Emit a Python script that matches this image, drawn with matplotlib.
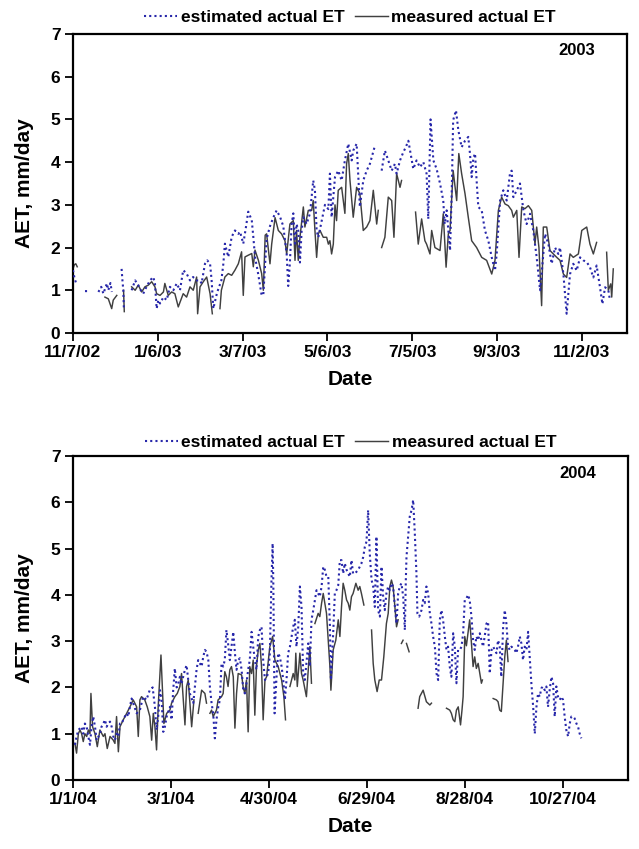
import numpy as np
import pandas as pd
import matplotlib
matplotlib.use("Agg")
import matplotlib.pyplot as plt
from numpy import nan

# ---------------- data ----------------
start03 = "2002-11-07"
start04 = "2004-01-01"
ticks03 = ["11/7/02", "1/6/03", "3/7/03", "5/6/03", "7/5/03", "9/3/03", "11/2/03"]
ticks04 = ["1/1/04", "3/1/04", "4/30/04", "6/29/04", "8/28/04", "10/27/04"]
yticks = [0, 1, 2, 3, 4, 5, 6, 7]
series_names = ["estimated actual ET", "measured actual ET"]

# (day since start, AET mm/day); nan = gap
est03 = [
    (0, 1.47), (1, 1.3), (2.6, 1.12), (3, nan),
    (8.5, 0.98), (11, 0.98), (12, nan),
    (18, 0.96), (20, 1.08), (21.5, 0.92), (24, 1.16), (25, 1.0), (26.5, 1.17), (27.5, 0.96), (28, nan),
    (34.4, 1.5), (35, 1.23), (35.6, 1.0), (36, 0.6), (37, nan),
    (41.5, 1.0), (44, 1.23), (46.2, 1.12), (47.4, 1.03), (49.7, 0.92), (52, 1.08), (54.5, 1.23),
    (56.8, 1.31), (58, 1.16), (59.2, 0.57), (60.4, 0.77), (61.6, 0.69), (64, 0.84), (66.3, 0.77),
    (68.6, 1.08), (71, 1.0), (73.4, 1.16), (75.7, 1.0), (78, 1.47), (80.4, 1.39), (82.8, 1.23),
    (85, 1.31), (87.5, 1.23), (89.9, 1.23), (91, 1.16), (93.4, 1.62), (95, 1.7), (97, 1.62),
    (98.1, 1.23), (99.3, 0.57), (102, 0.95), (105, 1.23), (106.4, 1.62), (107.5, 2.09), (109.9, 1.78),
    (112.3, 2.25), (114.6, 2.4), (117, 2.32), (118.2, 2.37), (120.5, 2.09), (122.4, 2.48), (124, 2.84),
    (126.5, 2.64), (127.6, 2.25), (128.8, 1.78), (131, 1.39), (133.5, 0.88), (134.7, 0.9),
    (137, 2.2), (139.4, 2.5), (141.7, 2.7), (144.1, 2.87), (146.5, 2.72), (148.8, 2.5), (151.2, 1.85),
    (152.3, 1.1), (153.5, 1.65), (154.7, 2.55), (155.9, 2.8), (157.1, 2.09), (158.2, 2.55), (159.4, 2.4),
    (160.6, 1.65), (161.8, 2.4), (163, 2.71), (165.3, 2.55), (167.7, 2.8), (170, 3.57), (171.2, 3.34),
    (172.4, 2.4), (173.6, 2.24), (176, 2.63), (178.3, 3.0), (180.7, 2.9), (181.8, 3.73), (183, 2.71),
    (185.4, 3.65), (187.7, 3.8), (190.1, 3.57), (192.4, 4.04), (194.8, 4.43), (197.2, 4.04), (198.3, 4.27),
    (200.7, 4.43), (203, 2.95), (205.4, 3.57), (207.8, 3.8), (210.1, 3.96), (213.7, 4.39), (215, nan),
    (218.4, 3.8), (220.7, 4.27), (223.1, 4.04), (225.5, 3.8), (227.8, 3.96), (229, 3.73), (231.4, 4.04),
    (233.7, 4.23), (235.5, 4.35), (237.3, 4.5), (240.8, 3.84), (243.1, 4.04), (245.5, 3.88), (247.9, 4.0),
    (250.2, 3.73), (251.4, 2.67), (253, 5.0), (255, 4.04), (257.3, 3.84), (259.7, 3.5), (262, 3.1),
    (263, 2.55), (264.4, 2.87), (265.6, 2.4), (266.8, 1.93), (268, 3.3), (269, 4.98), (271, 5.21),
    (272.7, 4.74), (275, 4.35), (277.4, 4.5), (279.7, 4.59), (280.9, 4.2), (282.1, 3.65), (283.3, 4.1),
    (284.5, 4.2), (285.6, 3.57), (286.8, 2.95), (289.2, 2.87), (291.5, 2.4), (293.9, 2.16), (296.3, 1.77),
    (298.6, 1.46), (299.8, 1.85), (302.2, 3.1), (304.5, 3.34), (306.9, 3.1), (309.2, 3.73), (310.4, 3.8),
    (311.6, 3.18), (314, 3.34), (316.3, 3.5), (318.7, 2.87), (321, 2.55), (323.4, 2.79), (325.7, 2.4),
    (328.1, 1.77), (330.5, 1.0), (331.6, 1.38), (334, 2.32), (336.4, 2.08), (338.7, 1.62), (341.1, 2.0),
    (343.4, 1.85), (344.6, 2.0), (347, 1.38), (349.3, 0.45), (351.7, 1.38), (354, 1.62), (356.4, 1.46),
    (358.8, 1.77), (361.1, 1.7), (363.5, 1.66), (365.8, 1.54), (368.2, 1.3), (370.5, 1.58), (372.9, 1.07),
    (374.6, 0.68), (376.5, 1.07), (378.8, 1.0), (380, 0.76),
]

meas03 = [
    (0, 1.5), (1, 1.6), (2, 1.62), (3, 1.55), (4, nan),
    (22.6, 0.84), (25, 0.8), (27.4, 0.57), (28.5, 0.77), (31, 0.88), (32, nan),
    (35.8, 1.0), (36.3, 0.5), (37, nan),
    (41.5, 1.08), (44, 1.0), (46.2, 1.12), (48.6, 0.96), (50.9, 1.08), (53.3, 1.12), (55.7, 1.2),
    (58, 1.08), (59.2, 0.92), (61.6, 0.88), (64, 0.96), (65, 1.16), (67.4, 0.88), (69.8, 0.96),
    (72.1, 0.92), (74.5, 0.61), (78, 0.92), (80.4, 0.84), (82.8, 1.08), (85.1, 1.0), (86.3, 1.16),
    (87.5, 1.31), (88.2, 0.45), (89.9, 1.08), (92.2, 1.2), (94.6, 1.31), (97, 0.92), (98.6, 0.45), (99, nan),
    (104, 0.57), (105, 1.0), (107.5, 1.31), (109.9, 1.39), (112.3, 1.35), (114.6, 1.47), (117, 1.62),
    (119.3, 1.9), (120.5, 0.88), (121.7, 1.78), (124, 1.82), (126.5, 1.86), (127.6, 1.55), (128.8, 1.94),
    (131.2, 1.7), (133.5, 1.39), (134.7, 1.0), (136, 2.29), (137, 2.32), (139.4, 1.62), (140.6, 2.08),
    (143, 2.7), (145.3, 2.4), (147.6, 2.32), (150, 2.16), (151.2, 1.85), (153.5, 2.55), (155.9, 2.63),
    (157.1, 1.7), (158.2, 2.4), (159.4, 1.7), (160.6, 2.24), (163, 2.95), (164.1, 2.48), (166.5, 2.87),
    (168.9, 2.87), (170, 3.1), (171.2, 2.4), (172.4, 1.77), (173.6, 2.32), (174.8, 2.4), (177.1, 2.24),
    (179.5, 2.24), (180.7, 2.08), (181.8, 2.16), (183, 1.85), (184.2, 2.08), (185.4, 3.0), (186.5, 2.63),
    (187.7, 3.34), (190.1, 3.41), (192.4, 2.8), (193.6, 3.96), (194.8, 4.2), (196, 3.57), (198.3, 2.71),
    (200.7, 3.41), (203, 3.26), (205.4, 2.4), (207.8, 2.48), (210.1, 2.63), (212.5, 3.34), (214.9, 2.55),
    (216, 2.87), (217, nan),
    (218.4, 2.0), (220.7, 2.24), (223.1, 3.18), (225.5, 3.1), (227.1, 2.24), (229, 3.73), (231.4, 3.41),
    (232.5, 3.57), (233, nan),
    (242.4, 2.83), (244.3, 2.08), (246.7, 2.67), (249, 2.16), (250.2, 2.08), (252.6, 1.85), (253.8, 2.4),
    (256.1, 2.0), (259.7, 1.93), (262, 2.79), (264, 1.54), (265.6, 2.32), (266.8, 2.4), (269, 3.8),
    (271.5, 3.1), (273, 4.2), (275, 3.73), (277.4, 3.26), (279.7, 2.71), (282.1, 2.16), (285.6, 2.0),
    (289.2, 1.77), (292.7, 1.7), (296.3, 1.38), (298.6, 1.7), (301, 2.87), (303.3, 3.18), (305.7, 3.02),
    (308, 2.98), (310.4, 2.87), (311.6, 2.71), (314, 2.87), (315.6, 1.77), (317.5, 2.95), (319.8, 2.91),
    (322.2, 2.98), (324.6, 2.87), (326.9, 2.08), (328.1, 2.48), (329.7, 2.0), (331.6, 0.64), (332.8, 2.48),
    (335.2, 2.48), (337.5, 1.93), (339.9, 1.85), (342.3, 1.77), (344.6, 1.7), (347, 1.38), (349.3, 1.3),
    (351.7, 1.85), (354, 1.77), (357.6, 1.85), (360, 2.4), (363.5, 2.48), (365.8, 2.08), (368.2, 1.85),
    (370.5, 2.12), (371, nan),
    (377.6, 1.89), (378.8, 1.0), (380.5, 1.15), (381.2, 0.84), (382.3, 1.5),
]

est04 = [
    (1.2, 0.76), (2.2, 0.94), (3.3, 1.08), (5.3, 1.15), (6.3, 1.0), (7.3, 1.22), (8.4, 1.15), (9.4, 0.94),
    (10.4, 0.76), (11.4, 1.15), (12.4, 1.37), (13.5, 1.15), (14.5, 0.86), (16.5, 1.0), (17.5, 1.15),
    (18.6, 1.22), (19.6, 1.3), (20.6, 1.15), (21.6, 1.22), (22.7, 1.26), (23.7, 1.15), (24.7, 0.94),
    (25.7, 0.86), (26.7, 1.0), (27.8, 0.94), (28.8, 1.22), (29.8, 1.22), (30.8, 1.3), (31.8, 1.37),
    (32.9, 1.44), (33.9, 1.37), (34.9, 1.58), (35.9, 1.76), (36.9, 1.66), (39, 1.44), (41, 1.51),
    (43, 1.8), (45, 1.73), (47, 1.94), (48.8, 2.0), (50.2, 1.58), (51.2, 1.08), (52.2, 1.37), (53.3, 1.94),
    (54.3, 1.73), (55.3, 1.04), (56.3, 1.15), (57.4, 1.37), (59.4, 1.58), (60.4, 1.3), (61.4, 1.94),
    (62.4, 2.41), (63.5, 2.0), (64.5, 2.07), (65.5, 2.23), (66.5, 2.07), (67.5, 2.23), (68.6, 2.38),
    (69.6, 2.48), (70.6, 2.16), (71.6, 1.87), (73.7, 1.66), (74.7, 2.02), (75.7, 2.38), (76.7, 2.59),
    (78.8, 2.45), (79.8, 2.66), (80.8, 2.81), (81.8, 2.77), (82.9, 2.59), (83.9, 2.0), (84.9, 1.66),
    (85.9, 1.44), (86.9, 0.9), (87.9, 1.3), (89, 1.58), (90, 1.73), (91, 2.52), (92, 2.45), (93, 2.59),
    (94, 3.24), (95, 2.95), (96.1, 2.59), (97.1, 2.88), (98.2, 3.2), (99.2, 2.74), (100.2, 2.38),
    (101.2, 2.59), (102.2, 2.63), (103.3, 2.38), (104.3, 1.94), (105.3, 1.87), (106.3, 2.09), (107.3, 2.38),
    (108.3, 2.59), (109.4, 3.2), (110.4, 2.88), (111.4, 2.59), (112.4, 2.38), (113.5, 3.1), (114.5, 3.24),
    (115.5, 3.31), (116.5, 2.6), (117.6, 2.16), (118.6, 2.23), (119.6, 2.3), (120.6, 2.74), (121.6, 4.32),
    (122.3, 5.11), (122.7, 4.32), (123.1, 2.88), (123.5, 1.44), (124.7, 2.23), (125.7, 2.74), (126.7, 2.66),
    (127.8, 2.45), (128.8, 2.16), (129.8, 1.73), (130.8, 2.16), (131.8, 2.74), (132.9, 2.88), (133.9, 3.1),
    (134.9, 3.31), (135.9, 3.46), (136.9, 2.88), (138, 3.31), (139, 4.18), (140, 3.74), (141, 2.3),
    (142, 2.16), (143, 2.52), (144.1, 2.95), (145.1, 2.45), (146.1, 3.46), (147.2, 3.67), (148.2, 3.89),
    (149.2, 4.1), (150.2, 4.03), (151.2, 3.96), (152.3, 4.18), (153.3, 4.61), (154.3, 4.54), (155.3, 4.39),
    (156.4, 4.39), (157.4, 3.31), (158, 2.16), (159.4, 3.17), (160.4, 4.03), (161.4, 4.1), (162.5, 4.21),
    (163.5, 4.75), (164.5, 4.75), (165.5, 4.46), (166.5, 4.68), (167.6, 4.54), (168.6, 4.46), (169.6, 4.39),
    (170.6, 4.75), (171.6, 4.46), (172.7, 4.46), (174.7, 4.54), (176.7, 4.68), (177.8, 4.82), (178.8, 5.04),
    (179.8, 5.15), (180.8, 5.83), (181.8, 4.9), (182.9, 4.32), (183.9, 4.18), (184.9, 3.74), (185.9, 5.26),
    (186.9, 3.67), (188, 3.53), (189, 4.61), (190, 3.96), (191, 3.67), (192, 4.03), (193.1, 4.18),
    (194.1, 4.1), (195.1, 4.25), (196.1, 4.18), (197.2, 3.74), (198.2, 3.38), (199.2, 4.03), (200.2, 4.18),
    (201.2, 4.25), (202.3, 3.96), (203.3, 3.24), (203.9, 4.32), (204.3, 4.82), (205.3, 5.26), (206.3, 5.69),
    (207.4, 5.83), (208.4, 6.05), (209.4, 5.33), (210.4, 4.46), (211, 3.6), (212.1, 3.53), (213.5, 3.67),
    (214.5, 3.89), (215.5, 3.82), (216.5, 4.18), (217.6, 4.03), (218.6, 3.6), (219.6, 3.38), (220.6, 3.1),
    (221.7, 2.88), (222.7, 2.3), (223.7, 2.16), (224.7, 3.46), (225.7, 3.67), (226.7, 3.46), (227.8, 3.1),
    (228.8, 2.81), (229.8, 2.88), (230.8, 2.45), (231.8, 2.23), (232.9, 3.17), (233.9, 2.88), (234.9, 2.09),
    (235.9, 2.81), (237, 2.81), (238, 2.88), (239, 3.17), (240, 3.89), (241, 3.92), (242, 4.0), (243, 3.89),
    (244.1, 3.53), (245.1, 3.02), (246.1, 2.81), (247.1, 3.1), (248.2, 3.02), (249.2, 3.17), (250.2, 3.02),
    (251.2, 2.88), (252.2, 3.1), (253.3, 3.38), (254.3, 3.42), (255.3, 2.3), (256.4, 2.81), (257.4, 2.88),
    (258.4, 2.81), (259.4, 2.74), (260.4, 3.02), (261.4, 2.88), (262.4, 2.23), (263.5, 3.31), (264.5, 3.67),
    (265.5, 3.38), (266.5, 2.88), (267.6, 2.81), (268.6, 2.88), (270.6, 2.81), (271.6, 2.74), (272.6, 2.88),
    (273.7, 3.1), (274.7, 2.95), (275.7, 2.59), (276.7, 2.88), (277.8, 2.81), (278.8, 3.2), (279.8, 2.66),
    (280.8, 2.09), (281.9, 1.58), (282.9, 1.0), (283.9, 1.58), (284.9, 1.87), (285.9, 1.8), (286.9, 1.98),
    (287.9, 2.02), (289, 1.94), (290, 2.02), (291, 1.58), (292, 1.94), (293.1, 2.23), (294.1, 2.09),
    (295.1, 1.37), (296.1, 2.02), (297.1, 1.8), (298.2, 1.73), (299.2, 1.8), (300.2, 1.73), (301.2, 1.37),
    (302.2, 1.08), (303.3, 0.94), (304.3, 1.22), (305.3, 1.37), (306.3, 1.37), (307.3, 1.33), (308.4, 1.22),
    (309.4, 1.15), (310.4, 1.0), (311.4, 0.9),
]

meas04 = [
    (1.2, 0.79), (2.2, 0.58), (3.3, 1.0), (4.3, 1.08), (5.3, 1.0), (6.3, 0.83), (7.3, 1.0), (8.4, 0.94),
    (9.4, 1.08), (10.4, 1.0), (11, 1.87), (12, 1.15), (13.5, 1.0), (14.9, 0.72), (16.5, 1.08), (18.6, 0.94),
    (19.6, 1.0), (21, 0.68), (22.7, 0.94), (24.7, 0.86), (25.7, 0.79), (26.7, 1.37), (27.8, 0.61),
    (28.8, 1.15), (30.8, 1.3), (32.9, 1.44), (34.9, 1.58), (36.9, 1.73), (39, 1.58), (40, 0.94), (41, 1.73),
    (42, 1.8), (44, 1.73), (45.5, 1.58), (47.1, 1.37), (48.2, 0.86), (49.2, 1.44), (50.2, 1.15), (51.2, 0.65),
    (52.2, 1.58), (53.9, 2.7), (54.9, 1.87), (55.7, 1.22), (57.4, 1.44), (59.4, 1.51), (60.4, 1.66),
    (62.4, 1.8), (63.9, 1.87), (65.5, 2.02), (66.5, 2.3), (68.6, 1.19), (69.6, 2.02), (70.6, 2.16),
    (72.7, 1.15), (74.1, 1.73), (75, nan),
    (76.7, 1.44), (78.8, 1.94), (80.8, 1.87), (81.8, 1.66), (82.5, nan),
    (83.9, 1.44), (84.9, 1.51), (85.9, 1.37), (87.9, 1.51), (88.9, 1.73), (91, 1.8), (92, 1.87), (93, 2.34),
    (94, 2.23), (95, 2.02), (96.1, 2.38), (97.1, 2.45), (98.2, 2.23), (99.2, 1.12), (100.2, 1.87),
    (101.2, 2.3), (103.3, 2.27), (104.3, 2.0), (105.3, 1.87), (106.3, 2.16), (107.3, 1.04), (108.3, 2.45),
    (109.4, 2.3), (110.4, 2.59), (111.4, 1.4), (112.4, 2.45), (113.5, 2.81), (114.5, 2.95), (115.5, 2.45),
    (116.5, 1.3), (117.6, 2.16), (118.6, 2.23), (120.6, 2.88), (122.3, 3.1), (123.7, 2.59), (125.7, 2.45),
    (127.8, 2.16), (129.2, 1.8), (130.2, 1.3), (131, nan),
    (132.9, 2.02), (134.9, 2.3), (135.9, 2.16), (136.5, 2.74), (137.4, 2.02), (139, 2.74), (140, 2.3),
    (141, 2.16), (143, 1.8), (144.1, 2.38), (145.1, 2.88), (146.1, 2.09), (147, nan),
    (148.2, 3.38), (150.2, 3.6), (151.2, 3.53), (152.3, 3.82), (153.3, 4.03), (155.3, 3.6), (157.4, 2.45),
    (158, 1.94), (159.4, 2.81), (161, 3.02), (162.5, 3.46), (163.5, 3.1), (164.5, 3.74), (165.5, 4.25),
    (166.5, 4.1), (167.6, 3.89), (168.6, 3.82), (169.6, 3.67), (170.6, 3.96), (171.6, 4.03), (173.3, 4.25),
    (174.7, 4.1), (175.7, 4.18), (176.7, 4.03), (178.2, 3.78), (179, nan),
    (182.9, 3.24), (183.9, 2.52), (184.9, 2.16), (186.3, 1.91), (187.6, 2.16), (189, 2.16), (190.4, 2.66),
    (192, 3.38), (193.1, 3.6), (194.1, 4.18), (195.1, 4.32), (196.1, 4.18), (197.2, 3.74), (198.2, 3.31),
    (199.2, 3.46), (200, nan),
    (201.2, 2.95), (202.2, 3.02), (203, nan),
    (204.3, 2.95), (205.9, 2.77), (206.5, nan),
    (211.4, 1.55), (212.4, 1.8), (214.5, 1.94), (216.5, 1.69), (218.6, 1.62), (219.6, 1.66), (220, nan),
    (228.8, 1.55), (230.8, 1.51), (231.8, 1.44), (232.9, 1.3), (233.9, 1.26), (234.9, 1.51), (236, 1.58),
    (237.4, 1.19), (238.3, 1.51), (239, 1.8), (240, 3.1), (241, 2.9), (243, 3.46), (244.1, 2.95),
    (245.1, 2.45), (246.1, 2.66), (247.1, 2.41), (248.2, 2.52), (249.2, 2.3), (250.2, 2.09), (250.8, 2.16),
    (251.5, nan),
    (257.4, 1.76), (259.4, 1.73), (260.4, 1.69), (261.4, 1.51), (262.4, 1.48), (263.5, 2.09), (264.5, 2.66),
    (265.5, 3.02), (266.5, 2.56),
]

# ---------------- style ----------------
plt.rcParams["font.family"] = ["Liberation Sans", "DejaVu Sans"]
plt.rcParams["font.weight"] = "bold"
EST_COLOR = "#2727aa"
MEAS_COLOR = "#404040"


def to_xy(points, start):
    d = np.array([p[0] for p in points], dtype=float)
    v = np.array([p[1] for p in points], dtype=float)
    x = pd.Timestamp(start) + pd.to_timedelta(d, unit="D")
    return x, v


fig = plt.figure(figsize=(6.39, 8.49), dpi=100)
ax1 = fig.add_axes([0.1142, 0.6078, 0.8670, 0.3522])
ax2 = fig.add_axes([0.1142, 0.0813, 0.8686, 0.3816])

panels = [
    (ax1, est03, meas03, start03, ticks03, 392, "2003", 1.03),
    (ax2, est04, meas04, start04, ticks04, 340, "2004", 1.018),
]

for ax, est, meas, start, tlabels, span, year, legy in panels:
    xe, ve = to_xy(est, start)
    xm, vm = to_xy(meas, start)
    ax.plot(xe, ve, linestyle=(0, (1.0, 1.5)), color=EST_COLOR, linewidth=1.5,
            label=series_names[0], zorder=3)
    ax.plot(xm, vm, linestyle="-", color=MEAS_COLOR, linewidth=1.05,
            label=series_names[1], zorder=2)
    t0 = pd.Timestamp(start)
    ax.set_xlim(t0, t0 + pd.Timedelta(days=span))
    ax.set_ylim(0, 7)
    tick_pos = [t0 + pd.Timedelta(days=60 * i) for i in range(len(tlabels))]
    ax.set_xticks(tick_pos)
    ax.set_xticklabels(tlabels)
    ax.set_yticks(yticks)
    ax.set_yticklabels([str(t) for t in yticks])
    ax.tick_params(direction="out", length=6, width=1.3, labelsize=12.5, pad=3)
    for lab in ax.get_xticklabels() + ax.get_yticklabels():
        lab.set_fontweight("bold")
    for s in ax.spines.values():
        s.set_linewidth(1.6)
    ax.set_xlabel("Date", fontsize=15, fontweight="bold", labelpad=7)
    ax.set_ylabel("AET, mm/day", fontsize=15, fontweight="bold", labelpad=12)
    ax.text(0.91, 0.945, year, transform=ax.transAxes, ha="center", va="center",
            fontsize=12, fontweight="bold")
    leg = ax.legend(loc="lower center", bbox_to_anchor=(0.5, legy), ncol=2, frameon=False,
                    fontsize=12.5, handlelength=1.9, handletextpad=0.2, columnspacing=0.6,
                    borderaxespad=0.0, borderpad=0.0)
    for t in leg.get_texts():
        t.set_fontweight("bold")

fig.savefig("out.png", dpi=100)
